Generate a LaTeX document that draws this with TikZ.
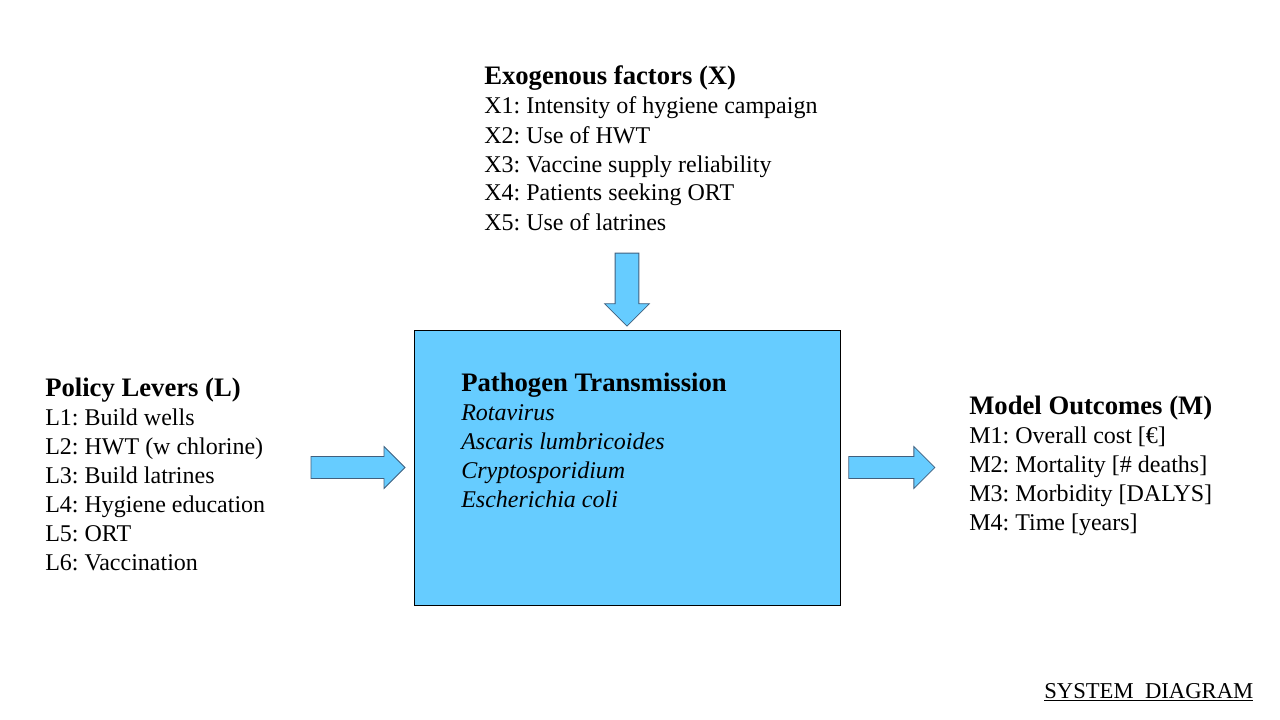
\documentclass[tikz,border=0pt]{standalone}
\usepackage{fontspec}
\setmainfont{Liberation Serif}
\usetikzlibrary{positioning, shapes.arrows}

\definecolor{boxblue}{HTML}{66CCFF}
\definecolor{arrowline}{HTML}{41607E}

\newcommand{\blocktitle}[1]{{\fontsize{20}{21.75}\selectfont\textbf{#1}}}

\tikzset{
  blocktext/.style={align=left, inner sep=0pt, anchor=base west,
    font=\fontsize{18}{21.75}\selectfont\frenchspacing},
  fatarrow/.style={single arrow, draw=arrowline, fill=boxblue, line width=0.6pt,
    inner xsep=0pt, single arrow tip angle=90, single arrow head indent=0pt},
}

\begin{document}
\begin{tikzpicture}[x=0.75pt, y=-0.75pt]
\useasboundingbox (0,0) rectangle (1280,720);

\node[draw=black, fill=boxblue, line width=0.6pt, minimum width=319.5pt, minimum height=206.25pt, inner sep=0pt] (system) at (627,467.5) {};

\node[fatarrow, minimum height=54.75pt, inner ysep=8.6pt, single arrow head extend=7.9pt, rotate=-90, anchor=tip] (xarrow) at ([yshift=2.2pt]system.north) {};
\node[fatarrow, minimum height=70.5pt, inner ysep=7.9pt, single arrow head extend=7.5pt] (larrow) [left=6pt of system] {};
\node[fatarrow, minimum height=64.5pt, inner ysep=7.9pt, single arrow head extend=7.5pt] (marrow) [right=6pt of system] {};

% last line baselines
\node[blocktext] (exogenous) at (484,230) {\blocktitle{Exogenous factors (X)}\\
X1: Intensity of hygiene campaign\\
X2: Use of HWT\\
X3: Vaccine supply reliability\\
X4: Patients seeking ORT\\
X5: Use of latrines};

\node[blocktext] (levers) at (45,570.5) {\blocktitle{Policy Levers (L)}\\
L1: Build wells\\
L2: HWT (w chlorine)\\
L3: Build latrines\\
L4: Hygiene education\\
L5: ORT\\
L6: Vaccination};

\node[blocktext] (pathogens) at (461,507) {\blocktitle{Pathogen Transmission}\\
\textit{Rotavirus}\\
\textit{Ascaris lumbricoides}\\
\textit{Cryptosporidium}\\
\textit{Escherichia coli}};

\node[blocktext] (outcomes) at (969,530.5) {\blocktitle{Model Outcomes (M)}\\
M1: Overall cost [€]\\
M2: Mortality [\# deaths]\\
M3: Morbidity [DALYS]\\
M4: Time [years]};

\node[blocktext, font=\fontsize{17}{20}\selectfont] (caption) at (1044,698) {\underline{SYSTEM\ \ DIAGRAM}};
\end{tikzpicture}
\end{document}
